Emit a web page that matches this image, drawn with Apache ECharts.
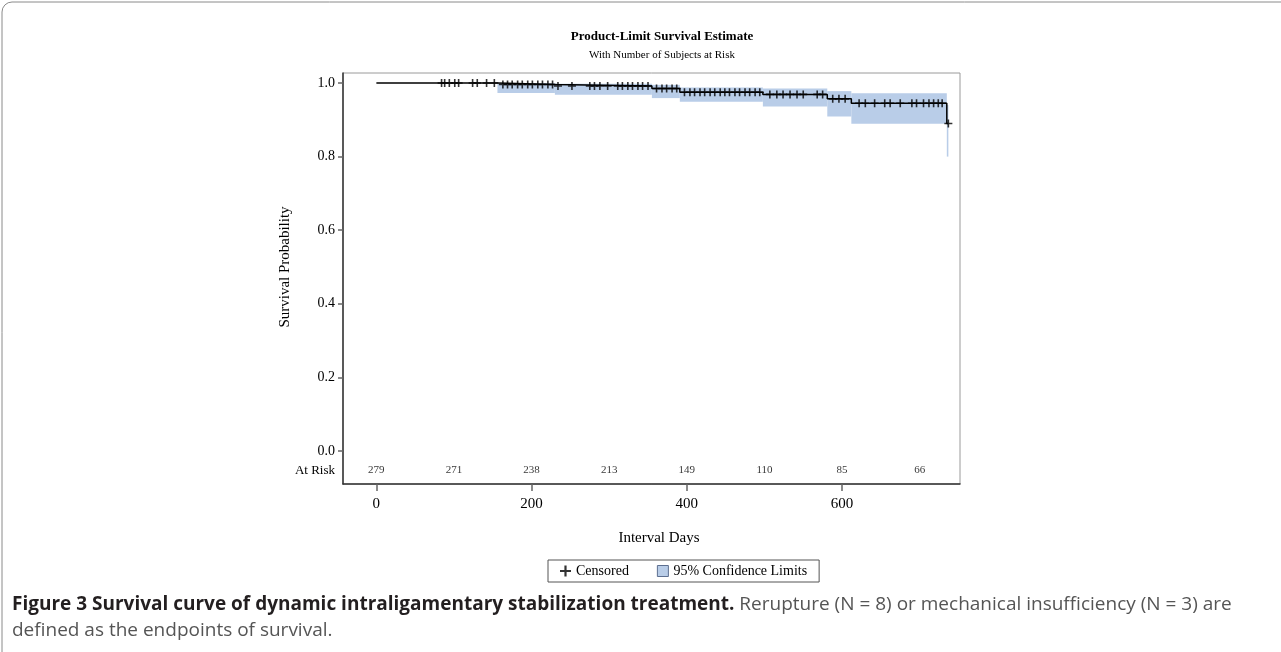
<!DOCTYPE html>
<html><head><meta charset="utf-8">
<script src="https://cdn.jsdelivr.net/npm/echarts@6/dist/echarts.min.js"></script>
<style>html,body{margin:0;padding:0;background:#fff}#c{width:1281px;height:652px}</style>
</head><body><div id="c"></div>
<script>
// ---- data ----
const eventTimes = [0, 156, 230, 355, 391, 498, 581, 612, 735];
const survival   = [1, 0.996, 0.992, 0.985, 0.975, 0.969, 0.957, 0.945, 0.89];
const lowerCL    = [1, 0.973, 0.968, 0.959, 0.949, 0.936, 0.909, 0.889, 0.80];
const upperCL    = [1, 0.9995, 0.998, 0.995, 0.988, 0.985, 0.978, 0.972, 0.94];
const endTime = 737;
const censorTimes = [84, 88, 94, 101, 106, 124, 130, 142, 152, 163, 169, 175, 182, 188, 195, 201, 208, 214,
  221, 227, 234, 252, 275, 281, 288, 298, 311, 317, 324, 330, 337, 343, 350, 361, 368, 374, 381, 387,
  397, 404, 410, 417, 423, 430, 436, 443, 449, 455, 462, 468, 475, 481, 488, 494, 507, 516, 524, 533,
  542, 550, 568, 575, 588, 596, 604, 622, 630, 642, 655, 662, 675, 690, 696, 705, 712, 718, 724, 729, 737];
const riskTimes = [0, 100, 200, 300, 400, 500, 600, 700];
const atRisk    = [279, 271, 238, 213, 149, 110, 85, 66];
const xTicks = [0, 200, 400, 600];
const yTicks = [0, 0.2, 0.4, 0.6, 0.8, 1.0];
const riskRowY = -0.052;

const captionBold = 'Figure 3 Survival curve of dynamic intraligamentary stabilization treatment.';
const captionRest1 = ' Rerupture (N = 8) or mechanical insufficiency (N = 3) are';
const captionRest2 = 'defined as the endpoints of survival.';

const serif = "'Liberation Serif', 'DejaVu Serif', serif";
const capFamily = "'Open Sans', 'Noto Sans', sans-serif";

// pick the caption size so that its first line runs from x=12 to about x=1233, as in the reference
const ctx = document.createElement('canvas').getContext('2d');
ctx.font = 'bold 16px ' + capFamily; const wB = ctx.measureText(captionBold).width;
ctx.font = '16px ' + capFamily; const wR = ctx.measureText(captionRest1).width;
const capSize = Math.min(19.5, Math.max(15, 16 * (1233 - 12) / (wB + wR)));

function survAt(t) {
  let s = survival[0];
  for (let i = 0; i < eventTimes.length; i++) if (eventTimes[i] <= t) s = survival[i];
  return s;
}
const curveData = eventTimes.map((t, i) => [t, survival[i]]).concat([[endTime, survival[survival.length - 1]]]);
const bandData = [];
for (let i = 1; i < eventTimes.length; i++) {
  const t1 = i + 1 < eventTimes.length ? eventTimes[i + 1] : endTime;
  bandData.push([eventTimes[i], t1, lowerCL[i], upperCL[i]]);
}
const censorData = censorTimes.map(t => [t, survAt(t)]);
const riskData = riskTimes.map((t, i) => [t, riskRowY, atRisk[i]]);

const plusPath = 'path://M4,0h2v4h4v2h-4v4h-2v-4h-4v-2h4z';

const chart = echarts.init(document.getElementById('c'), null, {renderer: 'canvas'});
chart.setOption({
  animation: false,
  grid: {left: 343, top: 73, right: 321, bottom: 168, show: true, borderColor: '#9a9a9a', borderWidth: 1},
  xAxis: {
    type: 'value', min: -43, max: 752,
    axisLine: {show: true, onZero: false, lineStyle: {color: '#333', width: 1.5}},
    axisTick: {show: true, customValues: xTicks, length: 7, lineStyle: {color: '#666', width: 1.5}},
    axisLabel: {customValues: xTicks, margin: 13, fontFamily: serif, fontSize: 15, color: '#000'},
    splitLine: {show: false}
  },
  yAxis: {
    type: 'value', min: -0.0897, max: 1.0272,
    axisLine: {show: true, onZero: false, lineStyle: {color: '#333', width: 1.5}},
    axisTick: {show: true, customValues: yTicks, length: 5, lineStyle: {color: '#666', width: 1.5}},
    axisLabel: {customValues: yTicks.concat([riskRowY]), margin: 8, fontFamily: serif, fontSize: 14, color: '#000',
      formatter: v => v < 0 ? '{r|At Risk}' : v.toFixed(1),
      rich: {r: {fontFamily: serif, fontSize: 13, color: '#000'}}},
    splitLine: {show: false}
  },
  legend: {
    left: 548, top: 560, padding: [4, 12], itemGap: 28, itemWidth: 11, itemHeight: 11,
    borderColor: '#555', borderWidth: 1,
    textStyle: {fontFamily: serif, fontSize: 14, color: '#000'},
    data: [
      {name: 'Censored', icon: plusPath, itemStyle: {color: '#000'}},
      {name: '95% Confidence Limits', icon: 'rect', itemStyle: {color: '#b9cde8', borderColor: '#5d6f90', borderWidth: 1}}
    ]
  },
  series: [
    {
      name: '95% Confidence Limits', type: 'custom', z: 1,
      itemStyle: {color: '#b9cde8'},
      encode: {x: [0, 1], y: [2, 3]},
      data: bandData,
      renderItem: function (params, api) {
        const p0 = api.coord([api.value(0), api.value(3)]);
        const p1 = api.coord([api.value(1), api.value(2)]);
        return {type: 'rect', shape: {x: p0[0], y: p0[1], width: Math.max(p1[0] - p0[0], 1), height: p1[1] - p0[1]},
          style: {fill: '#b9cde8', stroke: null}};
      }
    },
    {
      name: 'Survival', type: 'line', step: 'end', z: 3, data: curveData, symbol: 'none',
      lineStyle: {color: '#000', width: 1.5}
    },
    {
      name: 'Censored', type: 'scatter', z: 4, data: censorData, symbol: plusPath, symbolSize: 8,
      itemStyle: {color: '#000'}
    },
    {
      name: 'AtRisk', type: 'scatter', z: 4, data: riskData, symbolSize: 0, silent: true,
      label: {show: true, position: 'inside', formatter: p => String(p.data[2]), fontFamily: serif, fontSize: 11, color: '#000'}
    }
  ],
  graphic: [
    {type: 'rect', shape: {x: 2, y: 2, width: 1300, height: 700, r: 10}, style: {fill: 'none', stroke: '#8a8a8a', lineWidth: 1}, z: -10},
    {type: 'text', x: 662, y: 37, style: {text: 'Product-Limit Survival Estimate', font: "bold 13px 'Liberation Serif', serif", fill: '#000', textAlign: 'center', textVerticalAlign: 'middle'}},
    {type: 'text', x: 662, y: 55, style: {text: 'With Number of Subjects at Risk', font: "11px 'Liberation Serif', serif", fill: '#000', textAlign: 'center', textVerticalAlign: 'middle'}},
    {type: 'text', x: 285, y: 267, rotation: Math.PI / 2, style: {text: 'Survival Probability', font: "15px 'Liberation Serif', serif", fill: '#000', textAlign: 'center', textVerticalAlign: 'middle'}},
    {type: 'text', x: 659, y: 538, style: {text: 'Interval Days', font: "15px 'Liberation Serif', serif", fill: '#000', textAlign: 'center', textVerticalAlign: 'middle'}},
    {type: 'text', x: 12, y: 605, style: {
      text: '{b|' + captionBold + '}{r|' + captionRest1 + '}',
      textVerticalAlign: 'middle',
      rich: {
        b: {fontFamily: capFamily, fontWeight: 'bold', fontSize: capSize, fill: '#231f20'},
        r: {fontFamily: capFamily, fontSize: capSize, fill: '#555'}
      }}},
    {type: 'text', x: 12, y: 631, style: {text: captionRest2, font: capSize + 'px ' + capFamily, fill: '#555', textVerticalAlign: 'middle'}}
  ]
});
</script></body></html>
